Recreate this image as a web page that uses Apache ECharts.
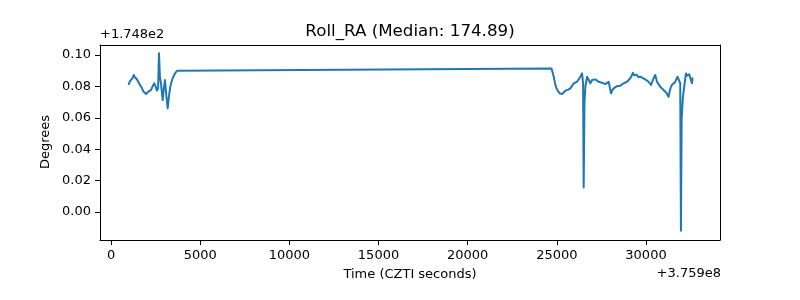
<!DOCTYPE html>
<html>
<head>
<meta charset="utf-8">
<script src="https://cdn.jsdelivr.net/npm/echarts@6/dist/echarts.min.js"></script>
<style>html,body{margin:0;padding:0;background:#fff}#c{width:800px;height:300px}</style>
</head>
<body>
<div id="c"></div>
<script>
// time offsets from 3.759e8 (CZTI seconds)
var times = [991,1060,1150,1210,1271,1330,1400,1450,1495,1570,1650,1720,1800,1880,1960,2030,2100,2170,2240,2330,2425,2500,2576,2640,2688,2740,2800,2850,2895,2960,3024,3100,3175,3250,3320,3390,3455,3580,3696,
  24696,24760,24825,24900,24976,25070,25161,25230,25295,25390,25480,25560,25640,25760,25850,25945,26040,26130,26225,26320,26415,26471,26505,26550,26600,26695,26785,26880,26975,
  27060,27160,27250,27345,27440,27535,27630,27720,27810,27905,28039,28110,28185,28280,28370,28465,28560,28650,28745,28840,28935,29030,29120,29200,29271,29330,29400,29480,29560,29680,29800,29960,30050,30145,30279,30350,30425,
  30520,30615,30700,30800,30910,31024,31140,31265,31330,31399,31470,31545,31620,31696,31769,31847,31920,31959,32000,32071,32144,32190,32239,32300,32351,32420,32480,32530,32575,32609];
// roll offsets from 174.8 degrees
var rollOffset = [0.0815,0.0832,0.0840,0.0855,0.0873,0.0860,0.0850,0.0846,0.0841,0.0820,0.0805,0.0792,0.0770,0.0760,0.0752,0.0760,0.0768,0.0772,0.0777,0.0800,0.0820,0.0800,0.0773,0.0790,0.1011,0.0860,0.0820,0.0760,0.0713,0.0790,0.0841,0.0740,0.0661,0.0740,0.0798,0.0830,0.0852,0.0882,0.0900,
  0.0915,0.0890,0.0862,0.0820,0.0788,0.0770,0.0756,0.0762,0.0752,0.0760,0.0773,0.0768,0.0780,0.0788,0.0800,0.0820,0.0812,0.0830,0.0841,0.0862,0.0883,0.0820,0.0157,0.0700,0.0798,0.0862,0.0873,0.0820,0.0841,
  0.0852,0.0845,0.0838,0.0830,0.0836,0.0824,0.0828,0.0815,0.0822,0.0830,0.0756,0.0775,0.0788,0.0795,0.0802,0.0809,0.0805,0.0815,0.0820,0.0812,0.0830,0.0838,0.0852,0.0870,0.0887,0.0872,0.0866,0.0874,0.0860,0.0862,0.0855,0.0845,0.0838,0.0830,0.0809,0.0830,0.0852,
  0.0873,0.0830,0.0815,0.0798,0.0790,0.0773,0.0760,0.0734,0.0770,0.0798,0.0812,0.0820,0.0826,0.0830,0.0862,0.0873,0.0820,-0.0119,0.0600,0.0734,0.0798,0.0840,0.0883,0.0868,0.0862,0.0878,0.0873,0.0866,0.0820,0.0852];
var xTicks = [0,5000,10000,15000,20000,25000,30000];
var yTicks = [0.00,0.02,0.04,0.06,0.08,0.10];
var titleText = 'Roll_RA (Median: 174.89)';
var xOffsetLabel = '+3.759e8';
var yOffsetLabel = '+1.748e2';

var data = times.map(function(t,i){return [t, rollOffset[i]];});
var font = 'DejaVu Sans';
var xMin = -620, xMax = 34150, yMin = -0.0178, yMax = 0.1064;
var chart = echarts.init(document.getElementById('c'), null, {renderer:'canvas'});
chart.setOption({
  animation:false,
  grid:{left:100,right:80,top:45,bottom:60},
  xAxis:[{type:'value',min:xMin,max:xMax,position:'bottom',
    axisLine:{show:true,onZero:false,lineStyle:{color:'#000',width:1}},
    splitLine:{show:true,lineStyle:{color:'rgba(0,0,0,0)'}},
    axisTick:{show:true,length:5,lineStyle:{color:'#000',width:1},customValues:xTicks},
    axisLabel:{color:'#000',fontFamily:font,fontSize:13,margin:9,customValues:xTicks,formatter:function(v){return String(v);}}},
    {type:'value',min:xMin,max:xMax,position:'top',
    axisLine:{show:true,onZero:false,lineStyle:{color:'#000',width:1}},
    splitLine:{show:false},axisTick:{show:false},axisLabel:{show:false}}],
  yAxis:[{type:'value',min:yMin,max:yMax,position:'left',
    axisLine:{show:true,onZero:false,lineStyle:{color:'#000',width:1}},
    splitLine:{show:true,lineStyle:{color:'rgba(0,0,0,0)'}},
    axisTick:{show:true,length:5,lineStyle:{color:'#000',width:1},customValues:yTicks},
    axisLabel:{color:'#000',fontFamily:font,fontSize:13,margin:9,customValues:yTicks,formatter:function(v){return v.toFixed(2);}}},
    {type:'value',min:yMin,max:yMax,position:'right',
    axisLine:{show:true,onZero:false,lineStyle:{color:'#000',width:1}},
    splitLine:{show:false},axisTick:{show:false},axisLabel:{show:false}}],
  series:[{type:'line',xAxisIndex:0,yAxisIndex:0,data:data,showSymbol:false,symbol:'none',lineStyle:{color:'#1f77b4',width:2,join:'round',cap:'round'},itemStyle:{color:'#1f77b4'}}],
  graphic:[
    {type:'text',style:{text:titleText,fontFamily:font,fontSize:16.7,fill:'#000',textAlign:'center',textVerticalAlign:'middle'},x:410,y:32},
    {type:'text',style:{text:yOffsetLabel,fontFamily:font,fontSize:13,fill:'#000',textAlign:'left',textVerticalAlign:'middle'},x:100,y:35},
    {type:'text',style:{text:xOffsetLabel,fontFamily:font,fontSize:13,fill:'#000',textAlign:'right',textVerticalAlign:'middle'},x:721,y:274},
    {type:'text',style:{text:'Time (CZTI seconds)',fontFamily:font,fontSize:13,fill:'#000',textAlign:'center',textVerticalAlign:'middle'},x:410,y:275},
    {type:'text',style:{text:'Degrees',fontFamily:font,fontSize:13,fill:'#000',textAlign:'center',textVerticalAlign:'middle'},x:46,y:142,rotation:Math.PI/2}
  ]
});
</script>
</body>
</html>
